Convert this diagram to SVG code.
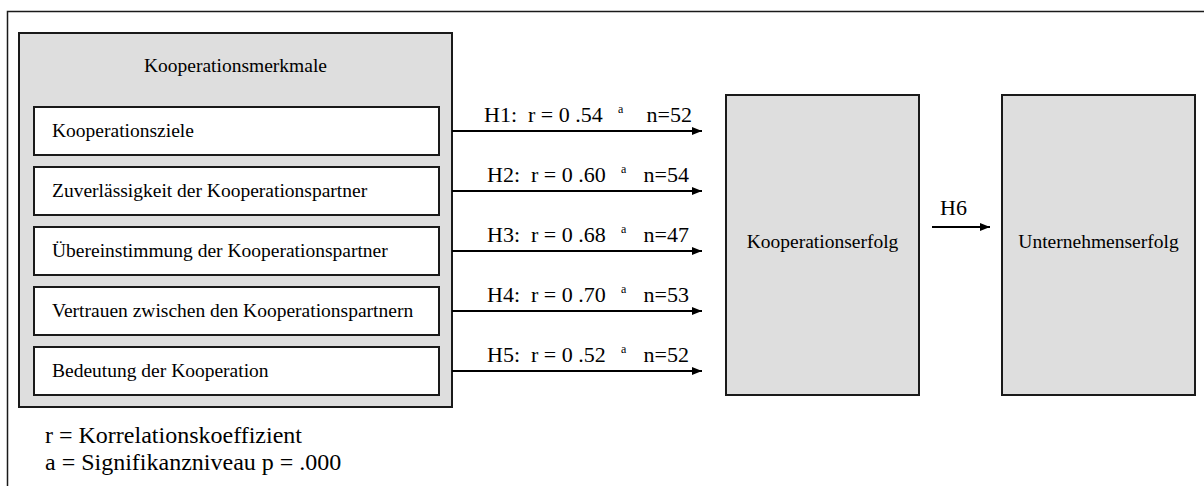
<svg xmlns="http://www.w3.org/2000/svg" width="1204" height="486" viewBox="0 0 1204 486" font-family="'Liberation Serif', 'Times New Roman', Times, 'DejaVu Serif', serif">
<style>
text{font-family:'Liberation Serif','Times New Roman',Times,'DejaVu Serif',serif;fill:#000;white-space:pre}
.box{fill:#dedede;stroke:#1a1a1a;stroke-width:2}
.item{fill:#fff;stroke:#1a1a1a;stroke-width:2}
.lbl{font-size:19.5px}
.hl{font-size:22px}
.sup{font-size:12px}
.leg{font-size:24px}
.ln{stroke:#000;stroke-width:2;fill:none}
</style>
<defs>
<marker id="ah" markerWidth="10" markerHeight="8" refX="10" refY="4" orient="auto" markerUnits="userSpaceOnUse">
<path d="M0,0 L10,4 L0,8 Z" fill="#000"/>
</marker>
</defs>
<path d="M7.5,486 V11.5 H1204" fill="none" stroke="#1a1a1a" stroke-width="1.5"/>
<g id="merkmale">
<rect class="box" x="19" y="33" width="433" height="374"/>
<text class="lbl" x="235.5" y="72" text-anchor="middle">Kooperationsmerkmale</text>
</g>
<g id="ziele">
<rect class="item" x="34" y="107" width="405" height="48"/>
<text class="lbl" x="52" y="137">Kooperationsziele</text>
</g>
<g id="zuverlaessigkeit">
<rect class="item" x="34" y="167" width="405" height="48"/>
<text class="lbl" x="52" y="197">Zuverlässigkeit der Kooperationspartner</text>
</g>
<g id="uebereinstimmung">
<rect class="item" x="34" y="227" width="405" height="48"/>
<text class="lbl" x="52" y="257">Übereinstimmung der Kooperationspartner</text>
</g>
<g id="vertrauen">
<rect class="item" x="34" y="287" width="405" height="48"/>
<text class="lbl" x="52" y="317">Vertrauen zwischen den Kooperationspartnern</text>
</g>
<g id="bedeutung">
<rect class="item" x="34" y="347" width="405" height="48"/>
<text class="lbl" x="52" y="377">Bedeutung der Kooperation</text>
</g>
<g id="kooperationserfolg">
<rect class="box" x="726" y="95" width="193" height="300"/>
<text class="lbl" x="822.5" y="248" text-anchor="middle">Kooperationserfolg</text>
</g>
<g id="unternehmenserfolg">
<rect class="box" x="1002" y="95" width="193" height="300"/>
<text class="lbl" x="1098.5" y="248" text-anchor="middle">Unternehmenserfolg</text>
</g>
<g id="connectors">
<line class="ln" x1="452" y1="131" x2="702" y2="131" marker-end="url(#ah)"/>
<line class="ln" x1="452" y1="191" x2="702" y2="191" marker-end="url(#ah)"/>
<line class="ln" x1="452" y1="251" x2="702" y2="251" marker-end="url(#ah)"/>
<line class="ln" x1="452" y1="311" x2="702" y2="311" marker-end="url(#ah)"/>
<line class="ln" x1="452" y1="371" x2="702" y2="371" marker-end="url(#ah)"/>
<line class="ln" x1="932" y1="227" x2="990" y2="227" marker-end="url(#ah)"/>
<text class="hl"><tspan x="484" y="121.5">H1:  r = 0 .54</tspan><tspan class="sup" x="618" y="113">a</tspan><tspan x="692" y="121.5" text-anchor="end">n=52</tspan></text>
<text class="hl"><tspan x="487" y="181.5">H2:  r = 0 .60</tspan><tspan class="sup" x="621" y="173">a</tspan><tspan x="689" y="181.5" text-anchor="end">n=54</tspan></text>
<text class="hl"><tspan x="487" y="241.5">H3:  r = 0 .68</tspan><tspan class="sup" x="621" y="233">a</tspan><tspan x="689" y="241.5" text-anchor="end">n=47</tspan></text>
<text class="hl"><tspan x="487" y="301.5">H4:  r = 0 .70</tspan><tspan class="sup" x="621" y="293">a</tspan><tspan x="689" y="301.5" text-anchor="end">n=53</tspan></text>
<text class="hl"><tspan x="487" y="361.5">H5:  r = 0 .52</tspan><tspan class="sup" x="621" y="353">a</tspan><tspan x="689" y="361.5" text-anchor="end">n=52</tspan></text>
<text class="hl" x="940" y="215">H6</text>
</g>
<g id="legend">
<text class="leg" x="45" y="443">r = Korrelationskoeffizient</text>
<text class="leg" x="45" y="470">a = Signifikanzniveau p = .000</text>
</g>
</svg>
